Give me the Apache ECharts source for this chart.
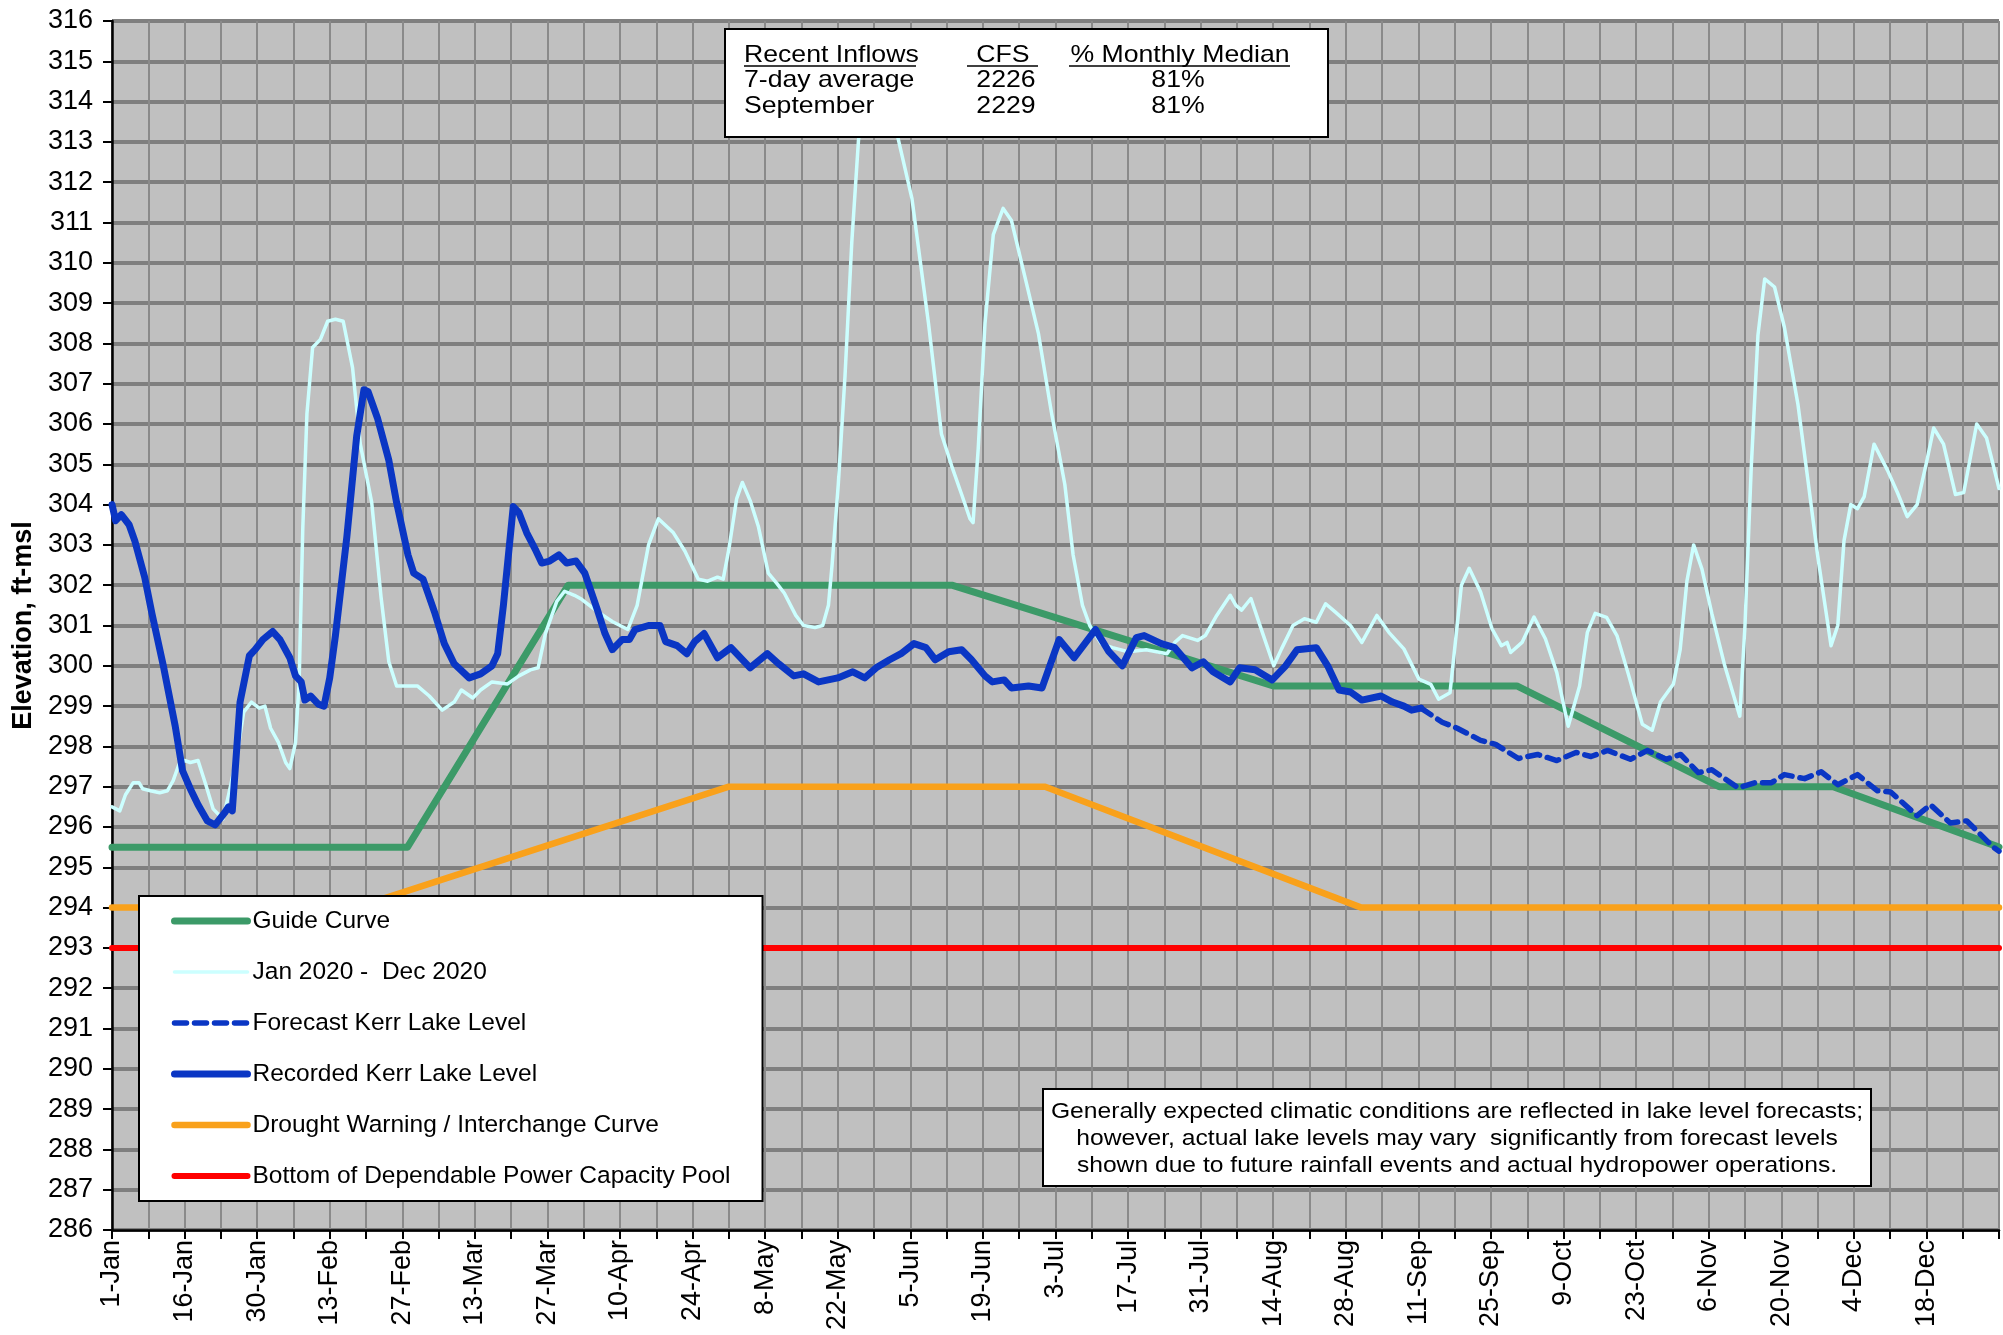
<!DOCTYPE html>
<html>
<head>
<meta charset="utf-8">
<script src="https://cdn.jsdelivr.net/npm/echarts@6/dist/echarts.min.js"></script>
<style>
html,body{margin:0;padding:0;background:#fff;}
#chart{width:2003px;height:1335px;}
</style>
</head>
<body>
<div id="chart"></div>
<script>
// ---- tick labels (one every 14 days, x = day of year starting at 0) ----
const xLabels = ['1-Jan','16-Jan','30-Jan','13-Feb','27-Feb','13-Mar','27-Mar','10-Apr','24-Apr','8-May','22-May','5-Jun','19-Jun','3-Jul','17-Jul','31-Jul','14-Aug','28-Aug','11-Sep','25-Sep','9-Oct','23-Oct','6-Nov','20-Nov','4-Dec','18-Dec'];

// ---- series: [day, elevation ft-msl] ----
const bottomPool = [[0,293],[364,293]];
const droughtCurve = [[0,294],[47,294],[119,297],[180,297],[241,294],[364,294]];
const guideCurve = [[0,295.5],[57,295.5],[88,302],[162,302],[224,299.5],[271,299.5],[310,297],[332,297],[364,295.5]];
const year2020 = [[0,296.5],[1.5,296.4],[2.6,296.8],[4.1,297.1],[5.2,297.1],[5.9,296.95],[7.4,296.9],[9.2,296.85],[10.7,296.9],[11.8,297.15],[12.9,297.55],[14,297.65],[15.1,297.6],[16.6,297.65],[18.1,297.05],[19.5,296.45],[21.4,296.2],[22.5,296.8],[24,297.7],[25.4,298.85],[26.9,299.1],[28.4,298.95],[29.5,299.0],[30.6,298.45],[32.1,298.1],[33.5,297.6],[34.3,297.45],[35.4,298.1],[36.1,299.6],[36.8,303.4],[37.6,306.25],[38.7,307.9],[40.2,308.1],[41.6,308.55],[43.1,308.6],[44.6,308.55],[46.4,307.4],[47.9,305.5],[50.1,304.05],[51.9,301.7],[53.4,300.1],[54.9,299.5],[57.1,299.5],[58.9,299.5],[61.2,299.25],[63.7,298.9],[66,299.1],[67.4,299.4],[69.6,299.2],[71.1,299.4],[73.3,299.6],[76.3,299.55],[78.5,299.75],[80.7,299.9],[82.2,299.95],[83.6,300.8],[85.8,301.6],[87.3,301.85],[89.2,301.75],[90.6,301.65],[93.6,301.35],[96.5,301.1],[99.5,300.9],[101.3,301.5],[103.5,303.0],[105.4,303.65],[108.3,303.3],[110.5,302.85],[113.1,302.15],[114.9,302.1],[116.8,302.2],[117.9,302.15],[119,302.9],[120.5,304.15],[121.6,304.55],[123.1,304.1],[124.7,303.45],[126.6,302.3],[128.2,302.05],[129.7,301.8],[131.9,301.25],[133.4,301.0],[135.6,300.95],[137.1,301.0],[138.2,301.5],[138.9,302.5],[140.1,304.5],[141.4,307.2],[142.7,310.5],[144,313.05],[145.5,314.2],[147.5,314.5],[149.5,314.3],[151.7,313.05],[154.3,311.6],[157.5,308.5],[160,305.75],[162,304.95],[163.9,304.25],[165.5,303.65],[166.1,303.55],[167.1,305.4],[168.4,308.5],[170,310.7],[171.9,311.35],[173.5,311.05],[176.1,309.65],[178.7,308.25],[181.2,306.3],[183.8,304.5],[185.4,302.75],[187.2,301.5],[188.6,301.0],[190.8,300.55],[193,300.45],[196,300.35],[199.5,300.4],[203.5,300.3],[205,300.58],[206.5,300.75],[209.4,300.63],[210.9,300.75],[213.1,301.25],[215.7,301.75],[216.8,301.5],[217.9,301.38],[219.7,301.67],[221.9,300.83],[224.1,300.0],[225.6,300.42],[227.8,301.0],[230,301.17],[232.3,301.08],[234.1,301.54],[236,301.33],[238.9,301.0],[241.1,300.58],[244,301.25],[246.3,300.83],[249.2,300.42],[252.1,299.67],[254.4,299.54],[255.9,299.17],[258.1,299.33],[260.3,302.0],[261.8,302.42],[264,301.83],[266.2,300.92],[268,300.5],[269.1,300.58],[269.8,300.33],[272,300.58],[274.3,301.21],[276.5,300.67],[278.7,299.83],[280.9,298.5],[283.1,299.5],[284.6,300.83],[286.1,301.3],[288.3,301.2],[290.3,300.75],[292.6,299.75],[295.2,298.55],[297.1,298.4],[298.7,299.1],[301.2,299.55],[302.5,300.4],[303.8,302.1],[305.1,303.0],[306.7,302.4],[308.6,301.3],[311.1,300.0],[314,298.75],[315,301.0],[316.2,304.9],[317.5,308.2],[318.8,309.6],[320.7,309.4],[322.6,308.4],[325.2,306.5],[327.1,304.65],[329,302.75],[331.6,300.5],[332.9,301.0],[334.1,303.1],[335.4,304.0],[336.7,303.9],[338,304.2],[339.9,305.5],[342.5,304.85],[344.4,304.3],[346.3,303.7],[348.2,304.0],[350.1,305.1],[351.4,305.9],[353.3,305.5],[355.6,304.25],[357.2,304.3],[359.7,306.0],[361.6,305.65],[364,304.4]];
const recordedLevel = [[0,304.0],[0.7,303.6],[1.8,303.75],[3.3,303.5],[4.4,303.1],[6.3,302.2],[7.7,301.3],[9.9,300.0],[12.2,298.5],[13.6,297.4],[15.1,296.95],[16.6,296.55],[18.4,296.15],[19.9,296.05],[21.7,296.35],[22.5,296.5],[23.2,296.4],[24.7,299.1],[26.5,300.25],[27.6,300.4],[29.1,300.65],[31.0,300.85],[32.4,300.65],[34.3,300.2],[35.4,299.75],[36.5,299.6],[37.2,299.15],[38.3,299.25],[39.8,299.05],[40.9,299.0],[42.0,299.7],[43.1,300.75],[45.3,303.2],[47.2,305.7],[48.6,306.85],[49.4,306.8],[51.2,306.15],[53.4,305.1],[54.9,304.05],[57.1,302.75],[58.2,302.3],[60.0,302.15],[62.3,301.3],[64.1,300.55],[66.0,300.05],[68.9,299.7],[71.1,299.8],[73.3,300.0],[74.4,300.3],[75.5,301.5],[77.4,303.95],[78.5,303.8],[80.0,303.3],[81.8,302.85],[82.9,302.55],[84.4,302.6],[86.2,302.75],[87.7,302.55],[89.5,302.6],[91.2,302.3],[93.6,301.4],[95.1,300.8],[96.5,300.4],[98.4,300.65],[99.8,300.65],[100.9,300.9],[103.5,301.0],[105.7,301.0],[106.8,300.6],[109,300.5],[110.9,300.3],[112.4,300.6],[114.2,300.8],[116.8,300.2],[119.4,300.45],[123.1,299.95],[126.4,300.3],[128.6,300.05],[131.5,299.75],[133.4,299.8],[136.3,299.6],[140,299.7],[142.9,299.85],[145.2,299.7],[147.4,299.95],[150,300.15],[152.2,300.3],[154.7,300.55],[157,300.45],[158.8,300.15],[161.4,300.35],[163.9,300.4],[165.8,300.15],[168.4,299.75],[169.8,299.6],[172.1,299.65],[173.5,299.45],[176.8,299.5],[179.4,299.45],[180.9,300.0],[182.7,300.65],[185.6,300.2],[189.7,300.9],[192.3,300.35],[194.9,300.0],[197.6,300.7],[199.1,300.75],[202.4,300.55],[205,300.45],[208.3,299.95],[210.5,300.1],[212.4,299.85],[215.7,299.6],[217.5,299.95],[220.5,299.9],[223.8,299.65],[226.4,300.0],[228.6,300.4],[232.3,300.45],[234.5,300.0],[236.7,299.4],[238.9,299.35],[241.1,299.15],[244.8,299.25],[247,299.1],[249.2,299.0],[250.7,298.9],[252.5,298.95]];
const forecastLevel = [[252.5,298.95],[256.6,298.6],[259.5,298.45],[264,298.15],[266.9,298.05],[271.3,297.7],[275,297.8],[278.7,297.65],[282.4,297.85],[285.3,297.75],[288.5,297.9],[292.9,297.68],[296.2,297.9],[299.8,297.68],[302.6,297.8],[306,297.35],[308.6,297.42],[313.7,296.97],[316.9,297.1],[320.1,297.1],[322.6,297.3],[326.5,297.2],[329.7,297.37],[332.9,297.05],[336.7,297.3],[340.5,296.9],[343.1,296.87],[348.2,296.28],[350.8,296.55],[354.6,296.1],[357.8,296.15],[362.9,295.5],[364,295.4]];

// ---- text boxes ----
const inflowHeader = ['Recent Inflows','CFS','% Monthly Median'];
const inflowRows = [['7-day average','2226','81%'],['September','2229','81%']];
const noteLines = ['Generally expected climatic conditions are reflected in lake level forecasts;','however, actual lake levels may vary  significantly from forecast levels','shown due to future rainfall events and actual hydropower operations.'];

const FONT = '"Liberation Sans", Arial, sans-serif';
const chart = echarts.init(document.getElementById('chart'));

function lineSeries(name, data, color, width, type, z){
  return {name:name, type:'line', data:data, showSymbol:false, symbol:'none', z:z,
    lineStyle:{color:color, width:width, type:type||'solid', cap:'round', join:'round'},
    itemStyle:{color:color}, emphasis:{disabled:true}, animation:false};
}
function txt(x, y, t, size, align, sx){
  return {type:'text', z:101, x:x, y:y, scaleX:sx, style:{text:t, font:size+'px '+FONT, fill:'#000', textAlign:align, textVerticalAlign:'middle'}};
}

const graphics = [
  {type:'rect', z:100, shape:{x:725,y:29,width:603,height:108}, style:{fill:'#fff',stroke:'#000',lineWidth:2}},
  txt(744, 55, inflowHeader[0], 24, 'left', 1.11),
  txt(1003, 55, inflowHeader[1], 24, 'center', 1.11),
  txt(1180, 55, inflowHeader[2], 24, 'center', 1.11),
  {type:'line', z:101, shape:{x1:744,y1:66,x2:916,y2:66}, style:{stroke:'#000',lineWidth:1.5}},
  {type:'line', z:101, shape:{x1:967,y1:66,x2:1038,y2:66}, style:{stroke:'#000',lineWidth:1.5}},
  {type:'line', z:101, shape:{x1:1069,y1:66,x2:1290,y2:66}, style:{stroke:'#000',lineWidth:1.5}},
  {type:'rect', z:100, shape:{x:1043,y:1089,width:828,height:97}, style:{fill:'#fff',stroke:'#000',lineWidth:2}}
];
inflowRows.forEach(function(row, i){
  const y = 80 + i*26;
  graphics.push(txt(744, y, row[0], 24, 'left', 1.11));
  graphics.push(txt(1006, y, row[1], 24, 'center', 1.11));
  graphics.push(txt(1178, y, row[2], 24, 'center', 1.11));
});
noteLines.forEach(function(t, i){
  graphics.push(txt(1457, 1112 + i*27, t, 22, 'center', 1.12));
});

chart.setOption({
  animation:false,
  backgroundColor:'#ffffff',
  textStyle:{fontFamily:FONT},
  grid:{left:112, right:4, top:21, bottom:105, show:true, backgroundColor:'#c0c0c0', borderWidth:0},
  legend:{
    orient:'vertical', left:139, top:896, z:50,
    backgroundColor:'#ffffff', borderColor:'#000', borderWidth:2,
    padding:[12,32,12,32], itemWidth:73, itemHeight:14, itemGap:25,
    itemStyle:{opacity:0},
    lineStyle:{width:'inherit', cap:'round'},
    textStyle:{fontSize:24.5, color:'#000', fontFamily:FONT, lineHeight:26},
    data:['Guide Curve','Jan 2020 -  Dec 2020','Forecast Kerr Lake Level','Recorded Kerr Lake Level','Drought Warning / Interchange Curve','Bottom of Dependable Power Capacity Pool'],
    selectedMode:false
  },
  xAxis:{
    type:'value', min:0, max:364, interval:7,
    axisLine:{show:true, onZero:false, lineStyle:{color:'#000', width:2.5}},
    axisTick:{show:true, length:9, lineStyle:{color:'#000', width:2}},
    axisLabel:{rotate:90, fontSize:27, color:'#000', margin:10, fontFamily:FONT,
      formatter:function(v){ return (v % 14 === 0 && xLabels[v/14]) ? xLabels[v/14] : ''; }},
    splitLine:{show:true, lineStyle:{color:'#8a8a8a', width:2}}
  },
  yAxis:{
    type:'value', min:286, max:316, interval:1,
    name:'Elevation, ft-msl', nameLocation:'middle', nameGap:74,
    nameTextStyle:{fontSize:27, fontWeight:'bold', color:'#000', fontFamily:FONT},
    axisLine:{show:true, lineStyle:{color:'#000', width:2.5}},
    axisTick:{show:true, length:9, lineStyle:{color:'#000', width:2}},
    axisLabel:{fontSize:27, color:'#000', margin:19, fontFamily:FONT},
    splitLine:{show:true, lineStyle:{color:'#7f7f7f', width:4}}
  },
  graphic:graphics,
  series:[
    lineSeries('Bottom of Dependable Power Capacity Pool', bottomPool, '#ff0000', 6, 'solid', 3),
    lineSeries('Drought Warning / Interchange Curve', droughtCurve, '#f9a11b', 6.5, 'solid', 4),
    lineSeries('Guide Curve', guideCurve, '#3c9a68', 7, 'solid', 5),
    lineSeries('Jan 2020 -  Dec 2020', year2020, '#ccffff', 3.5, 'solid', 6),
    lineSeries('Forecast Kerr Lake Level', forecastLevel, '#0a36c4', 5.5, [12,8], 7),
    lineSeries('Recorded Kerr Lake Level', recordedLevel, '#0a36c4', 7, 'solid', 8)
  ]
});
</script>
</body>
</html>
